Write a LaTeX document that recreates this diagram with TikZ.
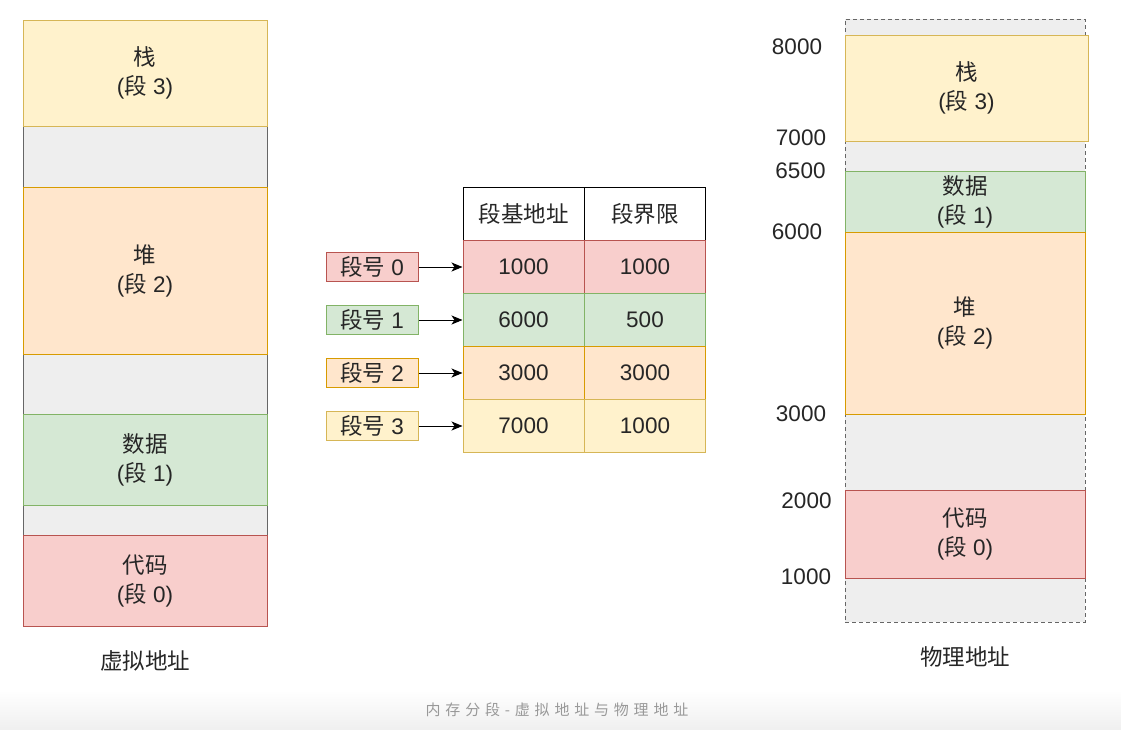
\documentclass[tikz,border=0pt]{standalone}
\usepackage{fontspec}
\setmainfont{Liberation Sans}
\newfontfamily\cjk{Noto Sans CJK SC}
\newfontfamily\cjkcap[LetterSpace=32]{Noto Sans CJK SC}
\newcommand{\zh}[1]{{\cjk #1}}
\usetikzlibrary{arrows.meta}

\definecolor{redfill}{HTML}{F8CECC}
\definecolor{redline}{HTML}{B85450}
\definecolor{greenfill}{HTML}{D5E8D4}
\definecolor{greenline}{HTML}{82B366}
\definecolor{orangefill}{HTML}{FFE6CC}
\definecolor{orangeline}{HTML}{D79B00}
\definecolor{yellowfill}{HTML}{FFF2CC}
\definecolor{yellowline}{HTML}{D6B656}
\definecolor{gapfill}{HTML}{EEEEEE}
\definecolor{gapline}{HTML}{666666}

\begin{document}
\begin{tikzpicture}[>={Stealth[length=11pt,width=9pt,inset=3pt]}, x=1pt, y=-1pt,
    every node/.style={font=\fontsize{22.5}{29}\selectfont, text=black!85},
    block/.style={draw, line width=1pt, align=center, inner sep=0pt},
    vblock/.style={block, minimum width=244pt},
    pblock/.style={block, minimum width=240pt},
    gap/.style={vblock, fill=gapfill, draw=gapline},
    cell/.style={block, minimum width=121pt, minimum height=53pt},
    segno/.style={block, minimum width=92pt, minimum height=29pt},
    redbox/.style={fill=redfill, draw=redline},
    greenbox/.style={fill=greenfill, draw=greenline},
    orangebox/.style={fill=orangefill, draw=orangeline},
    yellowbox/.style={fill=yellowfill, draw=yellowline}]

        \useasboundingbox (0,0) rectangle (1121,729);
        \shade[top color=white, bottom color=black!6] (0,690) rectangle (1121,729);

        % virtual address space
        \node[gap, minimum height=61pt] (vgapA) at (145,156.5) {};
        \node[gap, minimum height=60pt] (vgapB) at (145,384) {};
        \node[gap, minimum height=30pt] (vgapC) at (145,520) {};
        \node[vblock, yellowbox, minimum height=106pt] (vstack) at (145,73) {\zh{栈}\\(\zh{段} 3)};
        \node[vblock, orangebox, minimum height=167pt] (vheap) at (145,270.5) {\zh{堆}\\(\zh{段} 2)};
        \node[vblock, greenbox, minimum height=91pt] (vdata) at (145,459.5) {\zh{数据}\\(\zh{段} 1)};
        \node[vblock, redbox, minimum height=91pt] (vcode) at (145,580.5) {\zh{代码}\\(\zh{段} 0)};
        \node (vlabel) at (145,661) {\zh{虚拟地址}};

        % segment table
        \node[cell, fill=white, draw=black] (hbase) at (523.5,213.5) {\zh{段基地址}};
        \node[cell, fill=white, draw=black] (hlimit) at (645,213.5) {\zh{段界限}};
        \node[cell, redbox] (b0) at (523.5,266.5) {1000};
        \node[cell, redbox] (l0) at (645,266.5) {1000};
        \node[cell, greenbox] (b1) at (523.5,319.5) {6000};
        \node[cell, greenbox] (l1) at (645,319.5) {500};
        \node[cell, orangebox] (b2) at (523.5,372.5) {3000};
        \node[cell, orangebox] (l2) at (645,372.5) {3000};
        \node[cell, yellowbox] (b3) at (523.5,425.5) {7000};
        \node[cell, yellowbox] (l3) at (645,425.5) {1000};

        \node[segno, redbox] (sn0) at (372,267) {\zh{段号} 0};
        \node[segno, greenbox] (sn1) at (372,320) {\zh{段号} 1};
        \node[segno, orangebox] (sn2) at (372,373) {\zh{段号} 2};
        \node[segno, yellowbox] (sn3) at (372,426) {\zh{段号} 3};

        \draw[->, line width=1pt] (sn0.east) -- (sn0.east -| b0.west);
        \draw[->, line width=1pt] (sn1.east) -- (sn1.east -| b1.west);
        \draw[->, line width=1pt] (sn2.east) -- (sn2.east -| b2.west);
        \draw[->, line width=1pt] (sn3.east) -- (sn3.east -| b3.west);

        % physical address space
        \node[pblock, fill=gapfill, draw=gapline, dash pattern=on 4pt off 3pt, minimum height=603pt] (pmem) at (965,320.5) {};
        \node[block, yellowbox, minimum width=243pt, minimum height=106pt] (pstack) at (966.5,88) {\zh{栈}\\(\zh{段} 3)};
        \node[pblock, greenbox, minimum height=61pt] (pdata) at (965,201.5) {\zh{数据}\\(\zh{段} 1)};
        \node[pblock, orangebox, minimum height=182pt] (pheap) at (965,323) {\zh{堆}\\(\zh{段} 2)};
        \node[pblock, redbox, minimum height=88pt] (pcode) at (965,534) {\zh{代码}\\(\zh{段} 0)};
        \node (plabel) at (965,657) {\zh{物理地址}};

        \node (a8000) at (797,47) {8000};
        \node (a7000) at (801,138) {7000};
        \node (a6500) at (800.5,171) {6500};
        \node (a6000) at (797,232) {6000};
        \node (a3000) at (801,414) {3000};
        \node (a2000) at (806.5,501) {2000};
        \node (a1000) at (806,577) {1000};

        \node[font=\cjkcap\fontsize{15}{17}\selectfont, text=black!40] (caption) at (557,710) {内存分段-虚拟地址与物理地址};

\end{tikzpicture}
\end{document}
